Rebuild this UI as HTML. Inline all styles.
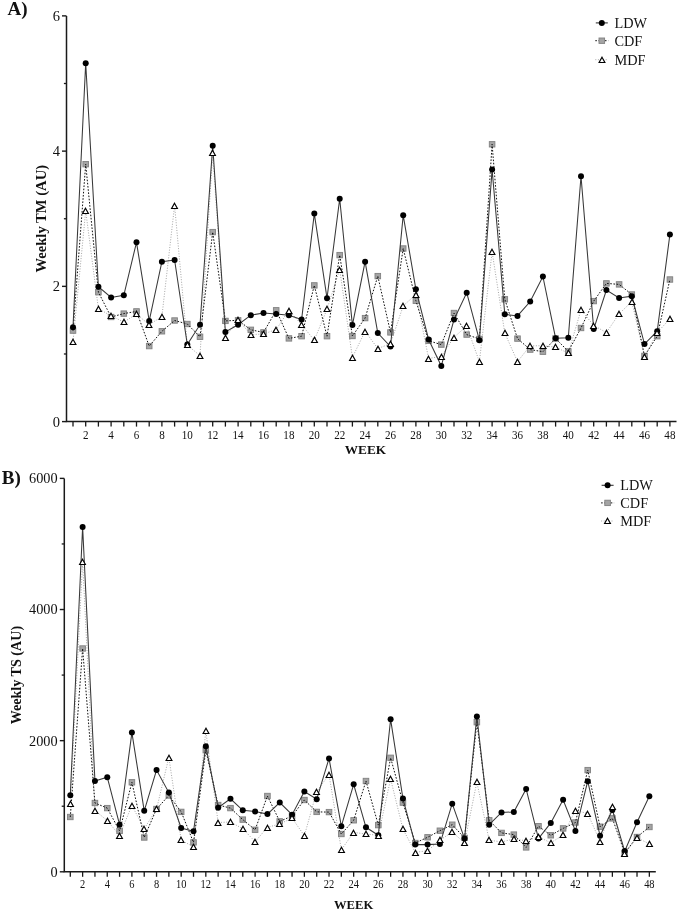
<!DOCTYPE html>
<html><head><meta charset="utf-8"><title>Weekly TM and TS</title>
<style>
html,body{margin:0;padding:0;background:#fff;}
body{width:679px;height:912px;overflow:hidden;}
svg{display:block;font-family:"Liberation Serif", serif;filter:grayscale(1);}
text{fill:#111;}
</style></head>
<body>
<svg width="679" height="912" viewBox="0 0 679 912">
<rect width="679" height="912" fill="#fff"/>
<path d="M66.5 15.88V421.6H676.5" fill="none" stroke="#1a1a1a" stroke-width="1.5"/>
<path d="M62 421.6H66.5" stroke="#1a1a1a" stroke-width="1.4"/>
<text x="60" y="426.53" font-size="14.5" text-anchor="end">0</text>
<path d="M62 286.36H66.5" stroke="#1a1a1a" stroke-width="1.4"/>
<text x="60" y="291.29" font-size="14.5" text-anchor="end">2</text>
<path d="M62 151.12H66.5" stroke="#1a1a1a" stroke-width="1.4"/>
<text x="60" y="156.05" font-size="14.5" text-anchor="end">4</text>
<path d="M62 15.88H66.5" stroke="#1a1a1a" stroke-width="1.4"/>
<text x="60" y="20.81" font-size="14.5" text-anchor="end">6</text>
<path d="M63.9 353.98H66.5" stroke="#1a1a1a" stroke-width="1.3"/>
<path d="M63.9 218.74H66.5" stroke="#1a1a1a" stroke-width="1.3"/>
<path d="M63.9 83.5H66.5" stroke="#1a1a1a" stroke-width="1.3"/>
<path d="M73 421.6V426.6" stroke="#1a1a1a" stroke-width="1.3"/>
<path d="M85.7 421.6V426.6" stroke="#1a1a1a" stroke-width="1.3"/>
<text transform="translate(85.7 438.6) scale(0.9 1)" font-size="12.3" text-anchor="middle">2</text>
<path d="M98.4 421.6V426.6" stroke="#1a1a1a" stroke-width="1.3"/>
<path d="M111.1 421.6V426.6" stroke="#1a1a1a" stroke-width="1.3"/>
<text transform="translate(111.1 438.6) scale(0.9 1)" font-size="12.3" text-anchor="middle">4</text>
<path d="M123.8 421.6V426.6" stroke="#1a1a1a" stroke-width="1.3"/>
<path d="M136.5 421.6V426.6" stroke="#1a1a1a" stroke-width="1.3"/>
<text transform="translate(136.5 438.6) scale(0.9 1)" font-size="12.3" text-anchor="middle">6</text>
<path d="M149.2 421.6V426.6" stroke="#1a1a1a" stroke-width="1.3"/>
<path d="M161.9 421.6V426.6" stroke="#1a1a1a" stroke-width="1.3"/>
<text transform="translate(161.9 438.6) scale(0.9 1)" font-size="12.3" text-anchor="middle">8</text>
<path d="M174.6 421.6V426.6" stroke="#1a1a1a" stroke-width="1.3"/>
<path d="M187.3 421.6V426.6" stroke="#1a1a1a" stroke-width="1.3"/>
<text transform="translate(187.3 438.6) scale(0.9 1)" font-size="12.3" text-anchor="middle">10</text>
<path d="M200 421.6V426.6" stroke="#1a1a1a" stroke-width="1.3"/>
<path d="M212.7 421.6V426.6" stroke="#1a1a1a" stroke-width="1.3"/>
<text transform="translate(212.7 438.6) scale(0.9 1)" font-size="12.3" text-anchor="middle">12</text>
<path d="M225.4 421.6V426.6" stroke="#1a1a1a" stroke-width="1.3"/>
<path d="M238.1 421.6V426.6" stroke="#1a1a1a" stroke-width="1.3"/>
<text transform="translate(238.1 438.6) scale(0.9 1)" font-size="12.3" text-anchor="middle">14</text>
<path d="M250.8 421.6V426.6" stroke="#1a1a1a" stroke-width="1.3"/>
<path d="M263.5 421.6V426.6" stroke="#1a1a1a" stroke-width="1.3"/>
<text transform="translate(263.5 438.6) scale(0.9 1)" font-size="12.3" text-anchor="middle">16</text>
<path d="M276.2 421.6V426.6" stroke="#1a1a1a" stroke-width="1.3"/>
<path d="M288.9 421.6V426.6" stroke="#1a1a1a" stroke-width="1.3"/>
<text transform="translate(288.9 438.6) scale(0.9 1)" font-size="12.3" text-anchor="middle">18</text>
<path d="M301.6 421.6V426.6" stroke="#1a1a1a" stroke-width="1.3"/>
<path d="M314.3 421.6V426.6" stroke="#1a1a1a" stroke-width="1.3"/>
<text transform="translate(314.3 438.6) scale(0.9 1)" font-size="12.3" text-anchor="middle">20</text>
<path d="M327 421.6V426.6" stroke="#1a1a1a" stroke-width="1.3"/>
<path d="M339.7 421.6V426.6" stroke="#1a1a1a" stroke-width="1.3"/>
<text transform="translate(339.7 438.6) scale(0.9 1)" font-size="12.3" text-anchor="middle">22</text>
<path d="M352.4 421.6V426.6" stroke="#1a1a1a" stroke-width="1.3"/>
<path d="M365.1 421.6V426.6" stroke="#1a1a1a" stroke-width="1.3"/>
<text transform="translate(365.1 438.6) scale(0.9 1)" font-size="12.3" text-anchor="middle">24</text>
<path d="M377.8 421.6V426.6" stroke="#1a1a1a" stroke-width="1.3"/>
<path d="M390.5 421.6V426.6" stroke="#1a1a1a" stroke-width="1.3"/>
<text transform="translate(390.5 438.6) scale(0.9 1)" font-size="12.3" text-anchor="middle">26</text>
<path d="M403.2 421.6V426.6" stroke="#1a1a1a" stroke-width="1.3"/>
<path d="M415.9 421.6V426.6" stroke="#1a1a1a" stroke-width="1.3"/>
<text transform="translate(415.9 438.6) scale(0.9 1)" font-size="12.3" text-anchor="middle">28</text>
<path d="M428.6 421.6V426.6" stroke="#1a1a1a" stroke-width="1.3"/>
<path d="M441.3 421.6V426.6" stroke="#1a1a1a" stroke-width="1.3"/>
<text transform="translate(441.3 438.6) scale(0.9 1)" font-size="12.3" text-anchor="middle">30</text>
<path d="M454 421.6V426.6" stroke="#1a1a1a" stroke-width="1.3"/>
<path d="M466.7 421.6V426.6" stroke="#1a1a1a" stroke-width="1.3"/>
<text transform="translate(466.7 438.6) scale(0.9 1)" font-size="12.3" text-anchor="middle">32</text>
<path d="M479.4 421.6V426.6" stroke="#1a1a1a" stroke-width="1.3"/>
<path d="M492.1 421.6V426.6" stroke="#1a1a1a" stroke-width="1.3"/>
<text transform="translate(492.1 438.6) scale(0.9 1)" font-size="12.3" text-anchor="middle">34</text>
<path d="M504.8 421.6V426.6" stroke="#1a1a1a" stroke-width="1.3"/>
<path d="M517.5 421.6V426.6" stroke="#1a1a1a" stroke-width="1.3"/>
<text transform="translate(517.5 438.6) scale(0.9 1)" font-size="12.3" text-anchor="middle">36</text>
<path d="M530.2 421.6V426.6" stroke="#1a1a1a" stroke-width="1.3"/>
<path d="M542.9 421.6V426.6" stroke="#1a1a1a" stroke-width="1.3"/>
<text transform="translate(542.9 438.6) scale(0.9 1)" font-size="12.3" text-anchor="middle">38</text>
<path d="M555.6 421.6V426.6" stroke="#1a1a1a" stroke-width="1.3"/>
<path d="M568.3 421.6V426.6" stroke="#1a1a1a" stroke-width="1.3"/>
<text transform="translate(568.3 438.6) scale(0.9 1)" font-size="12.3" text-anchor="middle">40</text>
<path d="M581 421.6V426.6" stroke="#1a1a1a" stroke-width="1.3"/>
<path d="M593.7 421.6V426.6" stroke="#1a1a1a" stroke-width="1.3"/>
<text transform="translate(593.7 438.6) scale(0.9 1)" font-size="12.3" text-anchor="middle">42</text>
<path d="M606.4 421.6V426.6" stroke="#1a1a1a" stroke-width="1.3"/>
<path d="M619.1 421.6V426.6" stroke="#1a1a1a" stroke-width="1.3"/>
<text transform="translate(619.1 438.6) scale(0.9 1)" font-size="12.3" text-anchor="middle">44</text>
<path d="M631.8 421.6V426.6" stroke="#1a1a1a" stroke-width="1.3"/>
<path d="M644.5 421.6V426.6" stroke="#1a1a1a" stroke-width="1.3"/>
<text transform="translate(644.5 438.6) scale(0.9 1)" font-size="12.3" text-anchor="middle">46</text>
<path d="M657.2 421.6V426.6" stroke="#1a1a1a" stroke-width="1.3"/>
<path d="M669.9 421.6V426.6" stroke="#1a1a1a" stroke-width="1.3"/>
<text transform="translate(669.9 438.6) scale(0.9 1)" font-size="12.3" text-anchor="middle">48</text>
<text x="365.5" y="454.2" font-size="13.3" font-weight="bold" text-anchor="middle">WEEK</text>
<text transform="translate(45.6 218.74) rotate(-90)" font-size="14.6" font-weight="bold" text-anchor="middle">Weekly TM (AU)</text>
<text x="7.5" y="15" font-size="19" font-weight="bold">A)</text>
<polyline points="73,341.9 85.7,210.9 98.4,308.6 111.1,315.9 123.8,322 136.5,314.1 149.2,324.7 161.9,316.5 174.6,205.4 187.3,345.2 200,355.6 212.7,152.7 225.4,337.3 238.1,319.6 250.8,334.6 263.5,334 276.2,329.5 288.9,310.3 301.6,324.7 314.3,340.2 327,309.2 339.7,269.5 352.4,357.4 365.1,331.3 377.8,348.5 390.5,343.7 403.2,305.9 415.9,294.4 428.6,358.5 441.3,356.3 454,337.3 466.7,326 479.4,361.8 492.1,251.8 504.8,333.1 517.5,361.6 530.2,345.7 542.9,345.8 555.6,347.1 568.3,353.2 581,309.9 593.7,325.4 606.4,332.6 619.1,313.8 631.8,301.6 644.5,356.9 657.2,332.6 669.9,318.8" fill="none" stroke="#a6a6a6" stroke-width="1" stroke-dasharray="1 1.6"/>
<rect x="70.2" y="327.9" width="5.6" height="5.4" fill="#a4a4a4" stroke="#808080" stroke-width="0.9"/>
<rect x="82.9" y="161.5" width="5.6" height="5.4" fill="#a4a4a4" stroke="#808080" stroke-width="0.9"/>
<rect x="95.6" y="289.5" width="5.6" height="5.4" fill="#a4a4a4" stroke="#808080" stroke-width="0.9"/>
<rect x="108.3" y="314.3" width="5.6" height="5.4" fill="#a4a4a4" stroke="#808080" stroke-width="0.9"/>
<rect x="121" y="310.9" width="5.6" height="5.4" fill="#a4a4a4" stroke="#808080" stroke-width="0.9"/>
<rect x="133.7" y="308.7" width="5.6" height="5.4" fill="#a4a4a4" stroke="#808080" stroke-width="0.9"/>
<rect x="146.4" y="343.4" width="5.6" height="5.4" fill="#a4a4a4" stroke="#808080" stroke-width="0.9"/>
<rect x="159.1" y="328.6" width="5.6" height="5.4" fill="#a4a4a4" stroke="#808080" stroke-width="0.9"/>
<rect x="171.8" y="317.8" width="5.6" height="5.4" fill="#a4a4a4" stroke="#808080" stroke-width="0.9"/>
<rect x="184.5" y="321.3" width="5.6" height="5.4" fill="#a4a4a4" stroke="#808080" stroke-width="0.9"/>
<rect x="197.2" y="334.1" width="5.6" height="5.4" fill="#a4a4a4" stroke="#808080" stroke-width="0.9"/>
<rect x="209.9" y="229.4" width="5.6" height="5.4" fill="#a4a4a4" stroke="#808080" stroke-width="0.9"/>
<rect x="222.6" y="318.2" width="5.6" height="5.4" fill="#a4a4a4" stroke="#808080" stroke-width="0.9"/>
<rect x="235.3" y="317.6" width="5.6" height="5.4" fill="#a4a4a4" stroke="#808080" stroke-width="0.9"/>
<rect x="248" y="327.1" width="5.6" height="5.4" fill="#a4a4a4" stroke="#808080" stroke-width="0.9"/>
<rect x="260.7" y="329.7" width="5.6" height="5.4" fill="#a4a4a4" stroke="#808080" stroke-width="0.9"/>
<rect x="273.4" y="307.6" width="5.6" height="5.4" fill="#a4a4a4" stroke="#808080" stroke-width="0.9"/>
<rect x="286.1" y="335.7" width="5.6" height="5.4" fill="#a4a4a4" stroke="#808080" stroke-width="0.9"/>
<rect x="298.8" y="333.5" width="5.6" height="5.4" fill="#a4a4a4" stroke="#808080" stroke-width="0.9"/>
<rect x="311.5" y="282.7" width="5.6" height="5.4" fill="#a4a4a4" stroke="#808080" stroke-width="0.9"/>
<rect x="324.2" y="333.5" width="5.6" height="5.4" fill="#a4a4a4" stroke="#808080" stroke-width="0.9"/>
<rect x="336.9" y="252.4" width="5.6" height="5.4" fill="#a4a4a4" stroke="#808080" stroke-width="0.9"/>
<rect x="349.6" y="333.3" width="5.6" height="5.4" fill="#a4a4a4" stroke="#808080" stroke-width="0.9"/>
<rect x="362.3" y="315.4" width="5.6" height="5.4" fill="#a4a4a4" stroke="#808080" stroke-width="0.9"/>
<rect x="375" y="273.4" width="5.6" height="5.4" fill="#a4a4a4" stroke="#808080" stroke-width="0.9"/>
<rect x="387.7" y="329.7" width="5.6" height="5.4" fill="#a4a4a4" stroke="#808080" stroke-width="0.9"/>
<rect x="400.4" y="245.8" width="5.6" height="5.4" fill="#a4a4a4" stroke="#808080" stroke-width="0.9"/>
<rect x="413.1" y="298.1" width="5.6" height="5.4" fill="#a4a4a4" stroke="#808080" stroke-width="0.9"/>
<rect x="425.8" y="338.1" width="5.6" height="5.4" fill="#a4a4a4" stroke="#808080" stroke-width="0.9"/>
<rect x="438.5" y="341.9" width="5.6" height="5.4" fill="#a4a4a4" stroke="#808080" stroke-width="0.9"/>
<rect x="451.2" y="310.3" width="5.6" height="5.4" fill="#a4a4a4" stroke="#808080" stroke-width="0.9"/>
<rect x="463.9" y="331.9" width="5.6" height="5.4" fill="#a4a4a4" stroke="#808080" stroke-width="0.9"/>
<rect x="476.6" y="336.3" width="5.6" height="5.4" fill="#a4a4a4" stroke="#808080" stroke-width="0.9"/>
<rect x="489.3" y="141.6" width="5.6" height="5.4" fill="#a4a4a4" stroke="#808080" stroke-width="0.9"/>
<rect x="502" y="296.6" width="5.6" height="5.4" fill="#a4a4a4" stroke="#808080" stroke-width="0.9"/>
<rect x="514.7" y="335.9" width="5.6" height="5.4" fill="#a4a4a4" stroke="#808080" stroke-width="0.9"/>
<rect x="527.4" y="346.9" width="5.6" height="5.4" fill="#a4a4a4" stroke="#808080" stroke-width="0.9"/>
<rect x="540.1" y="349" width="5.6" height="5.4" fill="#a4a4a4" stroke="#808080" stroke-width="0.9"/>
<rect x="552.8" y="335.8" width="5.6" height="5.4" fill="#a4a4a4" stroke="#808080" stroke-width="0.9"/>
<rect x="565.5" y="348.7" width="5.6" height="5.4" fill="#a4a4a4" stroke="#808080" stroke-width="0.9"/>
<rect x="578.2" y="325.3" width="5.6" height="5.4" fill="#a4a4a4" stroke="#808080" stroke-width="0.9"/>
<rect x="590.9" y="298.4" width="5.6" height="5.4" fill="#a4a4a4" stroke="#808080" stroke-width="0.9"/>
<rect x="603.6" y="280.7" width="5.6" height="5.4" fill="#a4a4a4" stroke="#808080" stroke-width="0.9"/>
<rect x="616.3" y="281.7" width="5.6" height="5.4" fill="#a4a4a4" stroke="#808080" stroke-width="0.9"/>
<rect x="629" y="291.8" width="5.6" height="5.4" fill="#a4a4a4" stroke="#808080" stroke-width="0.9"/>
<rect x="641.7" y="353.2" width="5.6" height="5.4" fill="#a4a4a4" stroke="#808080" stroke-width="0.9"/>
<rect x="654.4" y="333.5" width="5.6" height="5.4" fill="#a4a4a4" stroke="#808080" stroke-width="0.9"/>
<rect x="667.1" y="276.8" width="5.6" height="5.4" fill="#a4a4a4" stroke="#808080" stroke-width="0.9"/>
<polyline points="73,330.6 85.7,164.2 98.4,292.2 111.1,317 123.8,313.6 136.5,311.4 149.2,346.1 161.9,331.3 174.6,320.5 187.3,324 200,336.8 212.7,232.1 225.4,320.9 238.1,320.3 250.8,329.8 263.5,332.4 276.2,310.3 288.9,338.4 301.6,336.2 314.3,285.4 327,336.2 339.7,255.1 352.4,336 365.1,318.1 377.8,276.1 390.5,332.4 403.2,248.5 415.9,300.8 428.6,340.8 441.3,344.6 454,313 466.7,334.6 479.4,339 492.1,144.3 504.8,299.3 517.5,338.6 530.2,349.6 542.9,351.7 555.6,338.5 568.3,351.4 581,328 593.7,301.1 606.4,283.4 619.1,284.4 631.8,294.5 644.5,355.9 657.2,336.2 669.9,279.5" fill="none" stroke="#111" stroke-width="1" stroke-dasharray="1.6 1.6"/>
<polyline points="73,327.3 85.7,63.2 98.4,286.7 111.1,297.5 123.8,295.3 136.5,242.3 149.2,320.9 161.9,261.7 174.6,260 187.3,344.6 200,324.7 212.7,145.7 225.4,332 238.1,324.7 250.8,315.2 263.5,313 276.2,314.1 288.9,315.2 301.6,319.6 314.3,213.6 327,298.2 339.7,198.8 352.4,325.1 365.1,261.7 377.8,333.1 390.5,346.5 403.2,215.3 415.9,289.3 428.6,339.5 441.3,366 454,319.6 466.7,292.7 479.4,340.2 492.1,169.6 504.8,314.3 517.5,315.9 530.2,301.5 542.9,276.5 555.6,338.2 568.3,337.8 581,176.3 593.7,329.1 606.4,290.1 619.1,298 631.8,296.2 644.5,344.1 657.2,331.2 669.9,234.5" fill="none" stroke="#383838" stroke-width="1.05"/>
<circle cx="73" cy="327.3" r="3.0" fill="#000"/>
<circle cx="85.7" cy="63.2" r="3.0" fill="#000"/>
<circle cx="98.4" cy="286.7" r="3.0" fill="#000"/>
<circle cx="111.1" cy="297.5" r="3.0" fill="#000"/>
<circle cx="123.8" cy="295.3" r="3.0" fill="#000"/>
<circle cx="136.5" cy="242.3" r="3.0" fill="#000"/>
<circle cx="149.2" cy="320.9" r="3.0" fill="#000"/>
<circle cx="161.9" cy="261.7" r="3.0" fill="#000"/>
<circle cx="174.6" cy="260" r="3.0" fill="#000"/>
<circle cx="187.3" cy="344.6" r="3.0" fill="#000"/>
<circle cx="200" cy="324.7" r="3.0" fill="#000"/>
<circle cx="212.7" cy="145.7" r="3.0" fill="#000"/>
<circle cx="225.4" cy="332" r="3.0" fill="#000"/>
<circle cx="238.1" cy="324.7" r="3.0" fill="#000"/>
<circle cx="250.8" cy="315.2" r="3.0" fill="#000"/>
<circle cx="263.5" cy="313" r="3.0" fill="#000"/>
<circle cx="276.2" cy="314.1" r="3.0" fill="#000"/>
<circle cx="288.9" cy="315.2" r="3.0" fill="#000"/>
<circle cx="301.6" cy="319.6" r="3.0" fill="#000"/>
<circle cx="314.3" cy="213.6" r="3.0" fill="#000"/>
<circle cx="327" cy="298.2" r="3.0" fill="#000"/>
<circle cx="339.7" cy="198.8" r="3.0" fill="#000"/>
<circle cx="352.4" cy="325.1" r="3.0" fill="#000"/>
<circle cx="365.1" cy="261.7" r="3.0" fill="#000"/>
<circle cx="377.8" cy="333.1" r="3.0" fill="#000"/>
<circle cx="390.5" cy="346.5" r="3.0" fill="#000"/>
<circle cx="403.2" cy="215.3" r="3.0" fill="#000"/>
<circle cx="415.9" cy="289.3" r="3.0" fill="#000"/>
<circle cx="428.6" cy="339.5" r="3.0" fill="#000"/>
<circle cx="441.3" cy="366" r="3.0" fill="#000"/>
<circle cx="454" cy="319.6" r="3.0" fill="#000"/>
<circle cx="466.7" cy="292.7" r="3.0" fill="#000"/>
<circle cx="479.4" cy="340.2" r="3.0" fill="#000"/>
<circle cx="492.1" cy="169.6" r="3.0" fill="#000"/>
<circle cx="504.8" cy="314.3" r="3.0" fill="#000"/>
<circle cx="517.5" cy="315.9" r="3.0" fill="#000"/>
<circle cx="530.2" cy="301.5" r="3.0" fill="#000"/>
<circle cx="542.9" cy="276.5" r="3.0" fill="#000"/>
<circle cx="555.6" cy="338.2" r="3.0" fill="#000"/>
<circle cx="568.3" cy="337.8" r="3.0" fill="#000"/>
<circle cx="581" cy="176.3" r="3.0" fill="#000"/>
<circle cx="593.7" cy="329.1" r="3.0" fill="#000"/>
<circle cx="606.4" cy="290.1" r="3.0" fill="#000"/>
<circle cx="619.1" cy="298" r="3.0" fill="#000"/>
<circle cx="631.8" cy="296.2" r="3.0" fill="#000"/>
<circle cx="644.5" cy="344.1" r="3.0" fill="#000"/>
<circle cx="657.2" cy="331.2" r="3.0" fill="#000"/>
<circle cx="669.9" cy="234.5" r="3.0" fill="#000"/>
<path d="M73 339.3L75.9 344.5L70.1 344.5Z" fill="#fff" stroke="#000" stroke-width="1.15" stroke-linejoin="miter"/>
<path d="M85.5 208.3L88.4 213.5L82.6 213.5Z" fill="#fff" stroke="#000" stroke-width="1.15" stroke-linejoin="miter"/>
<path d="M98.5 306.3L101.4 311.5L95.6 311.5Z" fill="#fff" stroke="#000" stroke-width="1.15" stroke-linejoin="miter"/>
<path d="M111 313.3L113.9 318.5L108.1 318.5Z" fill="#fff" stroke="#000" stroke-width="1.15" stroke-linejoin="miter"/>
<path d="M124 319.3L126.9 324.5L121.1 324.5Z" fill="#fff" stroke="#000" stroke-width="1.15" stroke-linejoin="miter"/>
<path d="M136.5 311.3L139.4 316.5L133.6 316.5Z" fill="#fff" stroke="#000" stroke-width="1.15" stroke-linejoin="miter"/>
<path d="M149 322.3L151.9 327.5L146.1 327.5Z" fill="#fff" stroke="#000" stroke-width="1.15" stroke-linejoin="miter"/>
<path d="M162 314.3L164.9 319.5L159.1 319.5Z" fill="#fff" stroke="#000" stroke-width="1.15" stroke-linejoin="miter"/>
<path d="M174.5 203.3L177.4 208.5L171.6 208.5Z" fill="#fff" stroke="#000" stroke-width="1.15" stroke-linejoin="miter"/>
<path d="M187.5 342.3L190.4 347.5L184.6 347.5Z" fill="#fff" stroke="#000" stroke-width="1.15" stroke-linejoin="miter"/>
<path d="M200 353.3L202.9 358.5L197.1 358.5Z" fill="#fff" stroke="#000" stroke-width="1.15" stroke-linejoin="miter"/>
<path d="M212.5 150.3L215.4 155.5L209.6 155.5Z" fill="#fff" stroke="#000" stroke-width="1.15" stroke-linejoin="miter"/>
<path d="M225.5 335.3L228.4 340.5L222.6 340.5Z" fill="#fff" stroke="#000" stroke-width="1.15" stroke-linejoin="miter"/>
<path d="M238 317.3L240.9 322.5L235.1 322.5Z" fill="#fff" stroke="#000" stroke-width="1.15" stroke-linejoin="miter"/>
<path d="M251 332.3L253.9 337.5L248.1 337.5Z" fill="#fff" stroke="#000" stroke-width="1.15" stroke-linejoin="miter"/>
<path d="M263.5 331.3L266.4 336.5L260.6 336.5Z" fill="#fff" stroke="#000" stroke-width="1.15" stroke-linejoin="miter"/>
<path d="M276 327.3L278.9 332.5L273.1 332.5Z" fill="#fff" stroke="#000" stroke-width="1.15" stroke-linejoin="miter"/>
<path d="M289 308.3L291.9 313.5L286.1 313.5Z" fill="#fff" stroke="#000" stroke-width="1.15" stroke-linejoin="miter"/>
<path d="M301.5 322.3L304.4 327.5L298.6 327.5Z" fill="#fff" stroke="#000" stroke-width="1.15" stroke-linejoin="miter"/>
<path d="M314.5 337.3L317.4 342.5L311.6 342.5Z" fill="#fff" stroke="#000" stroke-width="1.15" stroke-linejoin="miter"/>
<path d="M327 306.3L329.9 311.5L324.1 311.5Z" fill="#fff" stroke="#000" stroke-width="1.15" stroke-linejoin="miter"/>
<path d="M339.5 267.3L342.4 272.5L336.6 272.5Z" fill="#fff" stroke="#000" stroke-width="1.15" stroke-linejoin="miter"/>
<path d="M352.5 355.3L355.4 360.5L349.6 360.5Z" fill="#fff" stroke="#000" stroke-width="1.15" stroke-linejoin="miter"/>
<path d="M365 329.3L367.9 334.5L362.1 334.5Z" fill="#fff" stroke="#000" stroke-width="1.15" stroke-linejoin="miter"/>
<path d="M378 346.3L380.9 351.5L375.1 351.5Z" fill="#fff" stroke="#000" stroke-width="1.15" stroke-linejoin="miter"/>
<path d="M390.5 341.3L393.4 346.5L387.6 346.5Z" fill="#fff" stroke="#000" stroke-width="1.15" stroke-linejoin="miter"/>
<path d="M403 303.3L405.9 308.5L400.1 308.5Z" fill="#fff" stroke="#000" stroke-width="1.15" stroke-linejoin="miter"/>
<path d="M416 292.3L418.9 297.5L413.1 297.5Z" fill="#fff" stroke="#000" stroke-width="1.15" stroke-linejoin="miter"/>
<path d="M428.5 356.3L431.4 361.5L425.6 361.5Z" fill="#fff" stroke="#000" stroke-width="1.15" stroke-linejoin="miter"/>
<path d="M441.5 354.3L444.4 359.5L438.6 359.5Z" fill="#fff" stroke="#000" stroke-width="1.15" stroke-linejoin="miter"/>
<path d="M454 335.3L456.9 340.5L451.1 340.5Z" fill="#fff" stroke="#000" stroke-width="1.15" stroke-linejoin="miter"/>
<path d="M466.5 323.3L469.4 328.5L463.6 328.5Z" fill="#fff" stroke="#000" stroke-width="1.15" stroke-linejoin="miter"/>
<path d="M479.5 359.3L482.4 364.5L476.6 364.5Z" fill="#fff" stroke="#000" stroke-width="1.15" stroke-linejoin="miter"/>
<path d="M492 249.3L494.9 254.5L489.1 254.5Z" fill="#fff" stroke="#000" stroke-width="1.15" stroke-linejoin="miter"/>
<path d="M505 330.3L507.9 335.5L502.1 335.5Z" fill="#fff" stroke="#000" stroke-width="1.15" stroke-linejoin="miter"/>
<path d="M517.5 359.3L520.4 364.5L514.6 364.5Z" fill="#fff" stroke="#000" stroke-width="1.15" stroke-linejoin="miter"/>
<path d="M530 343.3L532.9 348.5L527.1 348.5Z" fill="#fff" stroke="#000" stroke-width="1.15" stroke-linejoin="miter"/>
<path d="M543 343.3L545.9 348.5L540.1 348.5Z" fill="#fff" stroke="#000" stroke-width="1.15" stroke-linejoin="miter"/>
<path d="M555.5 344.3L558.4 349.5L552.6 349.5Z" fill="#fff" stroke="#000" stroke-width="1.15" stroke-linejoin="miter"/>
<path d="M568.5 350.3L571.4 355.5L565.6 355.5Z" fill="#fff" stroke="#000" stroke-width="1.15" stroke-linejoin="miter"/>
<path d="M581 307.3L583.9 312.5L578.1 312.5Z" fill="#fff" stroke="#000" stroke-width="1.15" stroke-linejoin="miter"/>
<path d="M593.5 323.3L596.4 328.5L590.6 328.5Z" fill="#fff" stroke="#000" stroke-width="1.15" stroke-linejoin="miter"/>
<path d="M606.5 330.3L609.4 335.5L603.6 335.5Z" fill="#fff" stroke="#000" stroke-width="1.15" stroke-linejoin="miter"/>
<path d="M619 311.3L621.9 316.5L616.1 316.5Z" fill="#fff" stroke="#000" stroke-width="1.15" stroke-linejoin="miter"/>
<path d="M632 299.3L634.9 304.5L629.1 304.5Z" fill="#fff" stroke="#000" stroke-width="1.15" stroke-linejoin="miter"/>
<path d="M644.5 354.3L647.4 359.5L641.6 359.5Z" fill="#fff" stroke="#000" stroke-width="1.15" stroke-linejoin="miter"/>
<path d="M657 330.3L659.9 335.5L654.1 335.5Z" fill="#fff" stroke="#000" stroke-width="1.15" stroke-linejoin="miter"/>
<path d="M670 316.3L672.9 321.5L667.1 321.5Z" fill="#fff" stroke="#000" stroke-width="1.15" stroke-linejoin="miter"/>
<path d="M595.8 22.9H607.8" stroke="#333" stroke-width="1.1"/>
<path d="M595.3 40.7H608.3" stroke="#111" stroke-width="1" stroke-dasharray="1.6 1.6"/>
<path d="M595.3 59.7H608.3" stroke="#aaa" stroke-width="1" stroke-dasharray="1 1.6"/>
<circle cx="601.8" cy="22.9" r="3.0" fill="#000"/>
<rect x="599" y="38" width="5.6" height="5.4" fill="#a4a4a4" stroke="#808080" stroke-width="0.9"/>
<path d="M602 57.3L604.9 62.5L599.1 62.5Z" fill="#fff" stroke="#000" stroke-width="1.15" stroke-linejoin="miter"/>
<text x="614.5" y="27.76" font-size="14.3">LDW</text>
<text x="614.5" y="45.56" font-size="14.3">CDF</text>
<text x="614.5" y="64.56" font-size="14.3">MDF</text>
<path d="M64.3 478.38V871.8H655.8" fill="none" stroke="#1a1a1a" stroke-width="1.5"/>
<path d="M59.8 871.8H64.3" stroke="#1a1a1a" stroke-width="1.4"/>
<text x="57.6" y="876.66" font-size="14.3" text-anchor="end">0</text>
<path d="M59.8 740.66H64.3" stroke="#1a1a1a" stroke-width="1.4"/>
<text x="57.6" y="745.52" font-size="14.3" text-anchor="end">2000</text>
<path d="M59.8 609.52H64.3" stroke="#1a1a1a" stroke-width="1.4"/>
<text x="57.6" y="614.38" font-size="14.3" text-anchor="end">4000</text>
<path d="M59.8 478.38H64.3" stroke="#1a1a1a" stroke-width="1.4"/>
<text x="57.6" y="483.24" font-size="14.3" text-anchor="end">6000</text>
<path d="M61.7 806.23H64.3" stroke="#1a1a1a" stroke-width="1.3"/>
<path d="M61.7 675.09H64.3" stroke="#1a1a1a" stroke-width="1.3"/>
<path d="M61.7 543.95H64.3" stroke="#1a1a1a" stroke-width="1.3"/>
<path d="M70.3 871.8V876.8" stroke="#1a1a1a" stroke-width="1.3"/>
<path d="M82.62 871.8V876.8" stroke="#1a1a1a" stroke-width="1.3"/>
<text transform="translate(82.62 887.7) scale(0.9 1)" font-size="11.6" text-anchor="middle">2</text>
<path d="M94.94 871.8V876.8" stroke="#1a1a1a" stroke-width="1.3"/>
<path d="M107.26 871.8V876.8" stroke="#1a1a1a" stroke-width="1.3"/>
<text transform="translate(107.26 887.7) scale(0.9 1)" font-size="11.6" text-anchor="middle">4</text>
<path d="M119.58 871.8V876.8" stroke="#1a1a1a" stroke-width="1.3"/>
<path d="M131.9 871.8V876.8" stroke="#1a1a1a" stroke-width="1.3"/>
<text transform="translate(131.9 887.7) scale(0.9 1)" font-size="11.6" text-anchor="middle">6</text>
<path d="M144.22 871.8V876.8" stroke="#1a1a1a" stroke-width="1.3"/>
<path d="M156.54 871.8V876.8" stroke="#1a1a1a" stroke-width="1.3"/>
<text transform="translate(156.54 887.7) scale(0.9 1)" font-size="11.6" text-anchor="middle">8</text>
<path d="M168.86 871.8V876.8" stroke="#1a1a1a" stroke-width="1.3"/>
<path d="M181.18 871.8V876.8" stroke="#1a1a1a" stroke-width="1.3"/>
<text transform="translate(181.18 887.7) scale(0.9 1)" font-size="11.6" text-anchor="middle">10</text>
<path d="M193.5 871.8V876.8" stroke="#1a1a1a" stroke-width="1.3"/>
<path d="M205.82 871.8V876.8" stroke="#1a1a1a" stroke-width="1.3"/>
<text transform="translate(205.82 887.7) scale(0.9 1)" font-size="11.6" text-anchor="middle">12</text>
<path d="M218.14 871.8V876.8" stroke="#1a1a1a" stroke-width="1.3"/>
<path d="M230.46 871.8V876.8" stroke="#1a1a1a" stroke-width="1.3"/>
<text transform="translate(230.46 887.7) scale(0.9 1)" font-size="11.6" text-anchor="middle">14</text>
<path d="M242.78 871.8V876.8" stroke="#1a1a1a" stroke-width="1.3"/>
<path d="M255.1 871.8V876.8" stroke="#1a1a1a" stroke-width="1.3"/>
<text transform="translate(255.1 887.7) scale(0.9 1)" font-size="11.6" text-anchor="middle">16</text>
<path d="M267.42 871.8V876.8" stroke="#1a1a1a" stroke-width="1.3"/>
<path d="M279.74 871.8V876.8" stroke="#1a1a1a" stroke-width="1.3"/>
<text transform="translate(279.74 887.7) scale(0.9 1)" font-size="11.6" text-anchor="middle">18</text>
<path d="M292.06 871.8V876.8" stroke="#1a1a1a" stroke-width="1.3"/>
<path d="M304.38 871.8V876.8" stroke="#1a1a1a" stroke-width="1.3"/>
<text transform="translate(304.38 887.7) scale(0.9 1)" font-size="11.6" text-anchor="middle">20</text>
<path d="M316.7 871.8V876.8" stroke="#1a1a1a" stroke-width="1.3"/>
<path d="M329.02 871.8V876.8" stroke="#1a1a1a" stroke-width="1.3"/>
<text transform="translate(329.02 887.7) scale(0.9 1)" font-size="11.6" text-anchor="middle">22</text>
<path d="M341.34 871.8V876.8" stroke="#1a1a1a" stroke-width="1.3"/>
<path d="M353.66 871.8V876.8" stroke="#1a1a1a" stroke-width="1.3"/>
<text transform="translate(353.66 887.7) scale(0.9 1)" font-size="11.6" text-anchor="middle">24</text>
<path d="M365.98 871.8V876.8" stroke="#1a1a1a" stroke-width="1.3"/>
<path d="M378.3 871.8V876.8" stroke="#1a1a1a" stroke-width="1.3"/>
<text transform="translate(378.3 887.7) scale(0.9 1)" font-size="11.6" text-anchor="middle">26</text>
<path d="M390.62 871.8V876.8" stroke="#1a1a1a" stroke-width="1.3"/>
<path d="M402.94 871.8V876.8" stroke="#1a1a1a" stroke-width="1.3"/>
<text transform="translate(402.94 887.7) scale(0.9 1)" font-size="11.6" text-anchor="middle">28</text>
<path d="M415.26 871.8V876.8" stroke="#1a1a1a" stroke-width="1.3"/>
<path d="M427.58 871.8V876.8" stroke="#1a1a1a" stroke-width="1.3"/>
<text transform="translate(427.58 887.7) scale(0.9 1)" font-size="11.6" text-anchor="middle">30</text>
<path d="M439.9 871.8V876.8" stroke="#1a1a1a" stroke-width="1.3"/>
<path d="M452.22 871.8V876.8" stroke="#1a1a1a" stroke-width="1.3"/>
<text transform="translate(452.22 887.7) scale(0.9 1)" font-size="11.6" text-anchor="middle">32</text>
<path d="M464.54 871.8V876.8" stroke="#1a1a1a" stroke-width="1.3"/>
<path d="M476.86 871.8V876.8" stroke="#1a1a1a" stroke-width="1.3"/>
<text transform="translate(476.86 887.7) scale(0.9 1)" font-size="11.6" text-anchor="middle">34</text>
<path d="M489.18 871.8V876.8" stroke="#1a1a1a" stroke-width="1.3"/>
<path d="M501.5 871.8V876.8" stroke="#1a1a1a" stroke-width="1.3"/>
<text transform="translate(501.5 887.7) scale(0.9 1)" font-size="11.6" text-anchor="middle">36</text>
<path d="M513.82 871.8V876.8" stroke="#1a1a1a" stroke-width="1.3"/>
<path d="M526.14 871.8V876.8" stroke="#1a1a1a" stroke-width="1.3"/>
<text transform="translate(526.14 887.7) scale(0.9 1)" font-size="11.6" text-anchor="middle">38</text>
<path d="M538.46 871.8V876.8" stroke="#1a1a1a" stroke-width="1.3"/>
<path d="M550.78 871.8V876.8" stroke="#1a1a1a" stroke-width="1.3"/>
<text transform="translate(550.78 887.7) scale(0.9 1)" font-size="11.6" text-anchor="middle">40</text>
<path d="M563.1 871.8V876.8" stroke="#1a1a1a" stroke-width="1.3"/>
<path d="M575.42 871.8V876.8" stroke="#1a1a1a" stroke-width="1.3"/>
<text transform="translate(575.42 887.7) scale(0.9 1)" font-size="11.6" text-anchor="middle">42</text>
<path d="M587.74 871.8V876.8" stroke="#1a1a1a" stroke-width="1.3"/>
<path d="M600.06 871.8V876.8" stroke="#1a1a1a" stroke-width="1.3"/>
<text transform="translate(600.06 887.7) scale(0.9 1)" font-size="11.6" text-anchor="middle">44</text>
<path d="M612.38 871.8V876.8" stroke="#1a1a1a" stroke-width="1.3"/>
<path d="M624.7 871.8V876.8" stroke="#1a1a1a" stroke-width="1.3"/>
<text transform="translate(624.7 887.7) scale(0.9 1)" font-size="11.6" text-anchor="middle">46</text>
<path d="M637.02 871.8V876.8" stroke="#1a1a1a" stroke-width="1.3"/>
<path d="M649.34 871.8V876.8" stroke="#1a1a1a" stroke-width="1.3"/>
<text transform="translate(649.34 887.7) scale(0.9 1)" font-size="11.6" text-anchor="middle">48</text>
<text x="353.6" y="909" font-size="12.6" font-weight="bold" text-anchor="middle">WEEK</text>
<text transform="translate(21 675.09) rotate(-90)" font-size="14.1" font-weight="bold" text-anchor="middle">Weekly TS (AU)</text>
<text x="1.8" y="484.4" font-size="19" font-weight="bold">B)</text>
<polyline points="70.3,803.3 82.62,561.8 94.94,810.3 107.26,820.7 119.58,835.3 131.9,805.5 144.22,828.7 156.54,809.2 168.86,757.3 181.18,840.2 193.5,846.8 205.82,731.2 218.14,822.5 230.46,822 242.78,828.7 255.1,841.7 267.42,827.3 279.74,824 292.06,818.1 304.38,835.7 316.7,791.6 329.02,774.5 341.34,849.7 353.66,832.4 365.98,834 378.3,835.3 390.62,779 402.94,829.1 415.26,852.3 427.58,850.8 439.9,840.2 452.22,832 464.54,842.8 476.86,782.1 489.18,840.2 501.5,841.9 513.82,839 526.14,840.8 538.46,836.8 550.78,842.8 563.1,835.1 575.42,810.3 587.74,813.6 600.06,841.4 612.38,806.5 624.7,853.5 637.02,837.9 649.34,843.8" fill="none" stroke="#a6a6a6" stroke-width="1" stroke-dasharray="1 1.6"/>
<rect x="67.5" y="814.3" width="5.6" height="5.4" fill="#a4a4a4" stroke="#808080" stroke-width="0.9"/>
<rect x="79.82" y="645.8" width="5.6" height="5.4" fill="#a4a4a4" stroke="#808080" stroke-width="0.9"/>
<rect x="92.14" y="800.3" width="5.6" height="5.4" fill="#a4a4a4" stroke="#808080" stroke-width="0.9"/>
<rect x="104.46" y="805.4" width="5.6" height="5.4" fill="#a4a4a4" stroke="#808080" stroke-width="0.9"/>
<rect x="116.78" y="828.2" width="5.6" height="5.4" fill="#a4a4a4" stroke="#808080" stroke-width="0.9"/>
<rect x="129.1" y="779.6" width="5.6" height="5.4" fill="#a4a4a4" stroke="#808080" stroke-width="0.9"/>
<rect x="141.42" y="834.8" width="5.6" height="5.4" fill="#a4a4a4" stroke="#808080" stroke-width="0.9"/>
<rect x="153.74" y="806.3" width="5.6" height="5.4" fill="#a4a4a4" stroke="#808080" stroke-width="0.9"/>
<rect x="166.06" y="792.8" width="5.6" height="5.4" fill="#a4a4a4" stroke="#808080" stroke-width="0.9"/>
<rect x="178.38" y="809.2" width="5.6" height="5.4" fill="#a4a4a4" stroke="#808080" stroke-width="0.9"/>
<rect x="190.7" y="839.7" width="5.6" height="5.4" fill="#a4a4a4" stroke="#808080" stroke-width="0.9"/>
<rect x="203.02" y="747.5" width="5.6" height="5.4" fill="#a4a4a4" stroke="#808080" stroke-width="0.9"/>
<rect x="215.34" y="802.3" width="5.6" height="5.4" fill="#a4a4a4" stroke="#808080" stroke-width="0.9"/>
<rect x="227.66" y="805.4" width="5.6" height="5.4" fill="#a4a4a4" stroke="#808080" stroke-width="0.9"/>
<rect x="239.98" y="816.9" width="5.6" height="5.4" fill="#a4a4a4" stroke="#808080" stroke-width="0.9"/>
<rect x="252.3" y="827.1" width="5.6" height="5.4" fill="#a4a4a4" stroke="#808080" stroke-width="0.9"/>
<rect x="264.62" y="793.3" width="5.6" height="5.4" fill="#a4a4a4" stroke="#808080" stroke-width="0.9"/>
<rect x="276.94" y="818.7" width="5.6" height="5.4" fill="#a4a4a4" stroke="#808080" stroke-width="0.9"/>
<rect x="289.26" y="813.3" width="5.6" height="5.4" fill="#a4a4a4" stroke="#808080" stroke-width="0.9"/>
<rect x="301.58" y="797.3" width="5.6" height="5.4" fill="#a4a4a4" stroke="#808080" stroke-width="0.9"/>
<rect x="313.9" y="809.2" width="5.6" height="5.4" fill="#a4a4a4" stroke="#808080" stroke-width="0.9"/>
<rect x="326.22" y="809.4" width="5.6" height="5.4" fill="#a4a4a4" stroke="#808080" stroke-width="0.9"/>
<rect x="338.54" y="831.3" width="5.6" height="5.4" fill="#a4a4a4" stroke="#808080" stroke-width="0.9"/>
<rect x="350.86" y="817.6" width="5.6" height="5.4" fill="#a4a4a4" stroke="#808080" stroke-width="0.9"/>
<rect x="363.18" y="778.3" width="5.6" height="5.4" fill="#a4a4a4" stroke="#808080" stroke-width="0.9"/>
<rect x="375.5" y="822.4" width="5.6" height="5.4" fill="#a4a4a4" stroke="#808080" stroke-width="0.9"/>
<rect x="387.82" y="755.1" width="5.6" height="5.4" fill="#a4a4a4" stroke="#808080" stroke-width="0.9"/>
<rect x="400.14" y="799.9" width="5.6" height="5.4" fill="#a4a4a4" stroke="#808080" stroke-width="0.9"/>
<rect x="412.46" y="840.3" width="5.6" height="5.4" fill="#a4a4a4" stroke="#808080" stroke-width="0.9"/>
<rect x="424.78" y="834.6" width="5.6" height="5.4" fill="#a4a4a4" stroke="#808080" stroke-width="0.9"/>
<rect x="437.1" y="828" width="5.6" height="5.4" fill="#a4a4a4" stroke="#808080" stroke-width="0.9"/>
<rect x="449.42" y="822" width="5.6" height="5.4" fill="#a4a4a4" stroke="#808080" stroke-width="0.9"/>
<rect x="461.74" y="835.2" width="5.6" height="5.4" fill="#a4a4a4" stroke="#808080" stroke-width="0.9"/>
<rect x="474.06" y="719.5" width="5.6" height="5.4" fill="#a4a4a4" stroke="#808080" stroke-width="0.9"/>
<rect x="486.38" y="817.6" width="5.6" height="5.4" fill="#a4a4a4" stroke="#808080" stroke-width="0.9"/>
<rect x="498.7" y="830.2" width="5.6" height="5.4" fill="#a4a4a4" stroke="#808080" stroke-width="0.9"/>
<rect x="511.02" y="831.9" width="5.6" height="5.4" fill="#a4a4a4" stroke="#808080" stroke-width="0.9"/>
<rect x="523.34" y="844.7" width="5.6" height="5.4" fill="#a4a4a4" stroke="#808080" stroke-width="0.9"/>
<rect x="535.66" y="823.5" width="5.6" height="5.4" fill="#a4a4a4" stroke="#808080" stroke-width="0.9"/>
<rect x="547.98" y="832.6" width="5.6" height="5.4" fill="#a4a4a4" stroke="#808080" stroke-width="0.9"/>
<rect x="560.3" y="825.7" width="5.6" height="5.4" fill="#a4a4a4" stroke="#808080" stroke-width="0.9"/>
<rect x="572.62" y="819.8" width="5.6" height="5.4" fill="#a4a4a4" stroke="#808080" stroke-width="0.9"/>
<rect x="584.94" y="767.4" width="5.6" height="5.4" fill="#a4a4a4" stroke="#808080" stroke-width="0.9"/>
<rect x="597.26" y="824" width="5.6" height="5.4" fill="#a4a4a4" stroke="#808080" stroke-width="0.9"/>
<rect x="609.58" y="815.7" width="5.6" height="5.4" fill="#a4a4a4" stroke="#808080" stroke-width="0.9"/>
<rect x="621.9" y="850.2" width="5.6" height="5.4" fill="#a4a4a4" stroke="#808080" stroke-width="0.9"/>
<rect x="634.22" y="834.3" width="5.6" height="5.4" fill="#a4a4a4" stroke="#808080" stroke-width="0.9"/>
<rect x="646.54" y="824.3" width="5.6" height="5.4" fill="#a4a4a4" stroke="#808080" stroke-width="0.9"/>
<polyline points="70.3,817 82.62,648.5 94.94,803 107.26,808.1 119.58,830.9 131.9,782.3 144.22,837.5 156.54,809 168.86,795.5 181.18,811.9 193.5,842.4 205.82,750.2 218.14,805 230.46,808.1 242.78,819.6 255.1,829.8 267.42,796 279.74,821.4 292.06,816 304.38,800 316.7,811.9 329.02,812.1 341.34,834 353.66,820.3 365.98,781 378.3,825.1 390.62,757.8 402.94,802.6 415.26,843 427.58,837.3 439.9,830.7 452.22,824.7 464.54,837.9 476.86,722.2 489.18,820.3 501.5,832.9 513.82,834.6 526.14,847.4 538.46,826.2 550.78,835.3 563.1,828.4 575.42,822.5 587.74,770.1 600.06,826.7 612.38,818.4 624.7,852.9 637.02,837 649.34,827" fill="none" stroke="#111" stroke-width="1" stroke-dasharray="1.6 1.6"/>
<polyline points="70.3,795.3 82.62,526.9 94.94,781 107.26,777.2 119.58,824.7 131.9,732.6 144.22,810.8 156.54,770 168.86,792.6 181.18,828 193.5,831.3 205.82,746.3 218.14,807.7 230.46,798.8 242.78,810.3 255.1,811.4 267.42,814.1 279.74,802.6 292.06,814.7 304.38,791.6 316.7,799.3 329.02,758.4 341.34,826.2 353.66,784.3 365.98,827.3 378.3,835.3 390.62,719.3 402.94,798.6 415.26,844.6 427.58,844.6 439.9,844.1 452.22,803.7 464.54,838.6 476.86,716.4 489.18,824.7 501.5,812.5 513.82,811.9 526.14,788.9 538.46,838.6 550.78,822.9 563.1,799.7 575.42,830.9 587.74,781.2 600.06,835.8 612.38,810 624.7,851.1 637.02,822.3 649.34,796.2" fill="none" stroke="#383838" stroke-width="1.05"/>
<circle cx="70.3" cy="795.3" r="3.0" fill="#000"/>
<circle cx="82.62" cy="526.9" r="3.0" fill="#000"/>
<circle cx="94.94" cy="781" r="3.0" fill="#000"/>
<circle cx="107.26" cy="777.2" r="3.0" fill="#000"/>
<circle cx="119.58" cy="824.7" r="3.0" fill="#000"/>
<circle cx="131.9" cy="732.6" r="3.0" fill="#000"/>
<circle cx="144.22" cy="810.8" r="3.0" fill="#000"/>
<circle cx="156.54" cy="770" r="3.0" fill="#000"/>
<circle cx="168.86" cy="792.6" r="3.0" fill="#000"/>
<circle cx="181.18" cy="828" r="3.0" fill="#000"/>
<circle cx="193.5" cy="831.3" r="3.0" fill="#000"/>
<circle cx="205.82" cy="746.3" r="3.0" fill="#000"/>
<circle cx="218.14" cy="807.7" r="3.0" fill="#000"/>
<circle cx="230.46" cy="798.8" r="3.0" fill="#000"/>
<circle cx="242.78" cy="810.3" r="3.0" fill="#000"/>
<circle cx="255.1" cy="811.4" r="3.0" fill="#000"/>
<circle cx="267.42" cy="814.1" r="3.0" fill="#000"/>
<circle cx="279.74" cy="802.6" r="3.0" fill="#000"/>
<circle cx="292.06" cy="814.7" r="3.0" fill="#000"/>
<circle cx="304.38" cy="791.6" r="3.0" fill="#000"/>
<circle cx="316.7" cy="799.3" r="3.0" fill="#000"/>
<circle cx="329.02" cy="758.4" r="3.0" fill="#000"/>
<circle cx="341.34" cy="826.2" r="3.0" fill="#000"/>
<circle cx="353.66" cy="784.3" r="3.0" fill="#000"/>
<circle cx="365.98" cy="827.3" r="3.0" fill="#000"/>
<circle cx="378.3" cy="835.3" r="3.0" fill="#000"/>
<circle cx="390.62" cy="719.3" r="3.0" fill="#000"/>
<circle cx="402.94" cy="798.6" r="3.0" fill="#000"/>
<circle cx="415.26" cy="844.6" r="3.0" fill="#000"/>
<circle cx="427.58" cy="844.6" r="3.0" fill="#000"/>
<circle cx="439.9" cy="844.1" r="3.0" fill="#000"/>
<circle cx="452.22" cy="803.7" r="3.0" fill="#000"/>
<circle cx="464.54" cy="838.6" r="3.0" fill="#000"/>
<circle cx="476.86" cy="716.4" r="3.0" fill="#000"/>
<circle cx="489.18" cy="824.7" r="3.0" fill="#000"/>
<circle cx="501.5" cy="812.5" r="3.0" fill="#000"/>
<circle cx="513.82" cy="811.9" r="3.0" fill="#000"/>
<circle cx="526.14" cy="788.9" r="3.0" fill="#000"/>
<circle cx="538.46" cy="838.6" r="3.0" fill="#000"/>
<circle cx="550.78" cy="822.9" r="3.0" fill="#000"/>
<circle cx="563.1" cy="799.7" r="3.0" fill="#000"/>
<circle cx="575.42" cy="830.9" r="3.0" fill="#000"/>
<circle cx="587.74" cy="781.2" r="3.0" fill="#000"/>
<circle cx="600.06" cy="835.8" r="3.0" fill="#000"/>
<circle cx="612.38" cy="810" r="3.0" fill="#000"/>
<circle cx="624.7" cy="851.1" r="3.0" fill="#000"/>
<circle cx="637.02" cy="822.3" r="3.0" fill="#000"/>
<circle cx="649.34" cy="796.2" r="3.0" fill="#000"/>
<path d="M70.5 801.3L73.4 806.5L67.6 806.5Z" fill="#fff" stroke="#000" stroke-width="1.15" stroke-linejoin="miter"/>
<path d="M82.5 559.3L85.4 564.5L79.6 564.5Z" fill="#fff" stroke="#000" stroke-width="1.15" stroke-linejoin="miter"/>
<path d="M95 808.3L97.9 813.5L92.1 813.5Z" fill="#fff" stroke="#000" stroke-width="1.15" stroke-linejoin="miter"/>
<path d="M107.5 818.3L110.4 823.5L104.6 823.5Z" fill="#fff" stroke="#000" stroke-width="1.15" stroke-linejoin="miter"/>
<path d="M119.5 833.3L122.4 838.5L116.6 838.5Z" fill="#fff" stroke="#000" stroke-width="1.15" stroke-linejoin="miter"/>
<path d="M132 803.3L134.9 808.5L129.1 808.5Z" fill="#fff" stroke="#000" stroke-width="1.15" stroke-linejoin="miter"/>
<path d="M144 826.3L146.9 831.5L141.1 831.5Z" fill="#fff" stroke="#000" stroke-width="1.15" stroke-linejoin="miter"/>
<path d="M156.5 806.3L159.4 811.5L153.6 811.5Z" fill="#fff" stroke="#000" stroke-width="1.15" stroke-linejoin="miter"/>
<path d="M169 755.3L171.9 760.5L166.1 760.5Z" fill="#fff" stroke="#000" stroke-width="1.15" stroke-linejoin="miter"/>
<path d="M181 837.3L183.9 842.5L178.1 842.5Z" fill="#fff" stroke="#000" stroke-width="1.15" stroke-linejoin="miter"/>
<path d="M193.5 844.3L196.4 849.5L190.6 849.5Z" fill="#fff" stroke="#000" stroke-width="1.15" stroke-linejoin="miter"/>
<path d="M206 728.3L208.9 733.5L203.1 733.5Z" fill="#fff" stroke="#000" stroke-width="1.15" stroke-linejoin="miter"/>
<path d="M218 820.3L220.9 825.5L215.1 825.5Z" fill="#fff" stroke="#000" stroke-width="1.15" stroke-linejoin="miter"/>
<path d="M230.5 819.3L233.4 824.5L227.6 824.5Z" fill="#fff" stroke="#000" stroke-width="1.15" stroke-linejoin="miter"/>
<path d="M243 826.3L245.9 831.5L240.1 831.5Z" fill="#fff" stroke="#000" stroke-width="1.15" stroke-linejoin="miter"/>
<path d="M255 839.3L257.9 844.5L252.1 844.5Z" fill="#fff" stroke="#000" stroke-width="1.15" stroke-linejoin="miter"/>
<path d="M267.5 825.3L270.4 830.5L264.6 830.5Z" fill="#fff" stroke="#000" stroke-width="1.15" stroke-linejoin="miter"/>
<path d="M279.5 821.3L282.4 826.5L276.6 826.5Z" fill="#fff" stroke="#000" stroke-width="1.15" stroke-linejoin="miter"/>
<path d="M292 815.3L294.9 820.5L289.1 820.5Z" fill="#fff" stroke="#000" stroke-width="1.15" stroke-linejoin="miter"/>
<path d="M304.5 833.3L307.4 838.5L301.6 838.5Z" fill="#fff" stroke="#000" stroke-width="1.15" stroke-linejoin="miter"/>
<path d="M316.5 789.3L319.4 794.5L313.6 794.5Z" fill="#fff" stroke="#000" stroke-width="1.15" stroke-linejoin="miter"/>
<path d="M329 772.3L331.9 777.5L326.1 777.5Z" fill="#fff" stroke="#000" stroke-width="1.15" stroke-linejoin="miter"/>
<path d="M341.5 847.3L344.4 852.5L338.6 852.5Z" fill="#fff" stroke="#000" stroke-width="1.15" stroke-linejoin="miter"/>
<path d="M353.5 830.3L356.4 835.5L350.6 835.5Z" fill="#fff" stroke="#000" stroke-width="1.15" stroke-linejoin="miter"/>
<path d="M366 831.3L368.9 836.5L363.1 836.5Z" fill="#fff" stroke="#000" stroke-width="1.15" stroke-linejoin="miter"/>
<path d="M378.5 833.3L381.4 838.5L375.6 838.5Z" fill="#fff" stroke="#000" stroke-width="1.15" stroke-linejoin="miter"/>
<path d="M390.5 776.3L393.4 781.5L387.6 781.5Z" fill="#fff" stroke="#000" stroke-width="1.15" stroke-linejoin="miter"/>
<path d="M403 826.3L405.9 831.5L400.1 831.5Z" fill="#fff" stroke="#000" stroke-width="1.15" stroke-linejoin="miter"/>
<path d="M415.5 850.3L418.4 855.5L412.6 855.5Z" fill="#fff" stroke="#000" stroke-width="1.15" stroke-linejoin="miter"/>
<path d="M427.5 848.3L430.4 853.5L424.6 853.5Z" fill="#fff" stroke="#000" stroke-width="1.15" stroke-linejoin="miter"/>
<path d="M440 837.3L442.9 842.5L437.1 842.5Z" fill="#fff" stroke="#000" stroke-width="1.15" stroke-linejoin="miter"/>
<path d="M452 829.3L454.9 834.5L449.1 834.5Z" fill="#fff" stroke="#000" stroke-width="1.15" stroke-linejoin="miter"/>
<path d="M464.5 840.3L467.4 845.5L461.6 845.5Z" fill="#fff" stroke="#000" stroke-width="1.15" stroke-linejoin="miter"/>
<path d="M477 779.3L479.9 784.5L474.1 784.5Z" fill="#fff" stroke="#000" stroke-width="1.15" stroke-linejoin="miter"/>
<path d="M489 837.3L491.9 842.5L486.1 842.5Z" fill="#fff" stroke="#000" stroke-width="1.15" stroke-linejoin="miter"/>
<path d="M501.5 839.3L504.4 844.5L498.6 844.5Z" fill="#fff" stroke="#000" stroke-width="1.15" stroke-linejoin="miter"/>
<path d="M514 836.3L516.9 841.5L511.1 841.5Z" fill="#fff" stroke="#000" stroke-width="1.15" stroke-linejoin="miter"/>
<path d="M526 838.3L528.9 843.5L523.1 843.5Z" fill="#fff" stroke="#000" stroke-width="1.15" stroke-linejoin="miter"/>
<path d="M538.5 834.3L541.4 839.5L535.6 839.5Z" fill="#fff" stroke="#000" stroke-width="1.15" stroke-linejoin="miter"/>
<path d="M551 840.3L553.9 845.5L548.1 845.5Z" fill="#fff" stroke="#000" stroke-width="1.15" stroke-linejoin="miter"/>
<path d="M563 832.3L565.9 837.5L560.1 837.5Z" fill="#fff" stroke="#000" stroke-width="1.15" stroke-linejoin="miter"/>
<path d="M575.5 808.3L578.4 813.5L572.6 813.5Z" fill="#fff" stroke="#000" stroke-width="1.15" stroke-linejoin="miter"/>
<path d="M587.5 811.3L590.4 816.5L584.6 816.5Z" fill="#fff" stroke="#000" stroke-width="1.15" stroke-linejoin="miter"/>
<path d="M600 839.3L602.9 844.5L597.1 844.5Z" fill="#fff" stroke="#000" stroke-width="1.15" stroke-linejoin="miter"/>
<path d="M612.5 804.3L615.4 809.5L609.6 809.5Z" fill="#fff" stroke="#000" stroke-width="1.15" stroke-linejoin="miter"/>
<path d="M624.5 851.3L627.4 856.5L621.6 856.5Z" fill="#fff" stroke="#000" stroke-width="1.15" stroke-linejoin="miter"/>
<path d="M637 835.3L639.9 840.5L634.1 840.5Z" fill="#fff" stroke="#000" stroke-width="1.15" stroke-linejoin="miter"/>
<path d="M649.5 841.3L652.4 846.5L646.6 846.5Z" fill="#fff" stroke="#000" stroke-width="1.15" stroke-linejoin="miter"/>
<path d="M601.6 485.3H613.6" stroke="#333" stroke-width="1.1"/>
<path d="M601.1 502.9H614.1" stroke="#111" stroke-width="1" stroke-dasharray="1.6 1.6"/>
<path d="M601.1 521H614.1" stroke="#aaa" stroke-width="1" stroke-dasharray="1 1.6"/>
<circle cx="607.6" cy="485.3" r="3.0" fill="#000"/>
<rect x="604.8" y="500.2" width="5.6" height="5.4" fill="#a4a4a4" stroke="#808080" stroke-width="0.9"/>
<path d="M607.5 518.3L610.4 523.5L604.6 523.5Z" fill="#fff" stroke="#000" stroke-width="1.15" stroke-linejoin="miter"/>
<text x="620.3" y="490.16" font-size="14.3">LDW</text>
<text x="620.3" y="507.76" font-size="14.3">CDF</text>
<text x="620.3" y="525.86" font-size="14.3">MDF</text>
</svg>
</body></html>
